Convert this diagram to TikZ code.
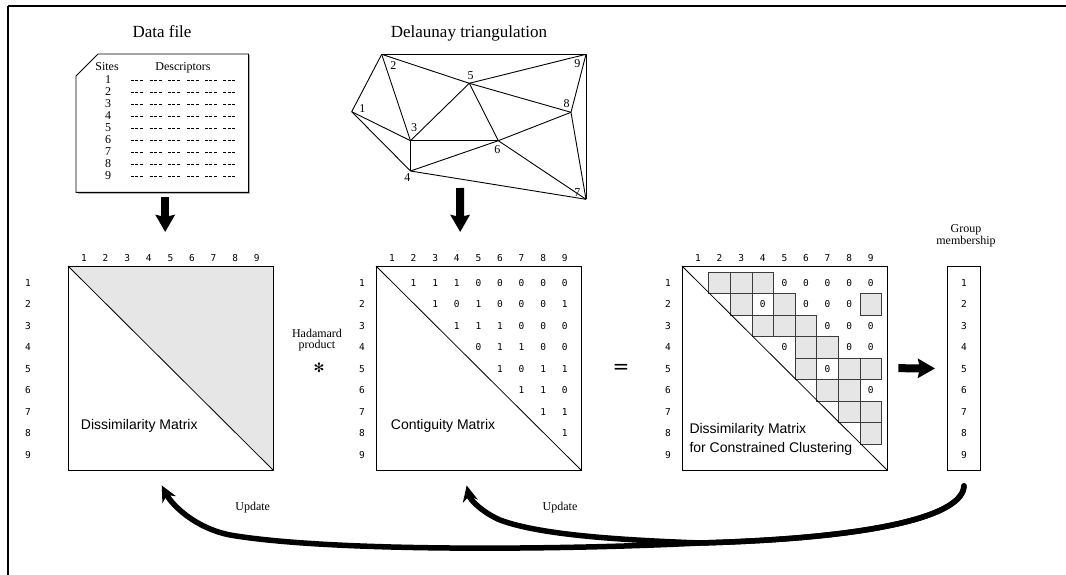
\documentclass[tikz,border=0pt]{standalone}
\usepackage{fontspec}
\setmainfont{Liberation Serif}
\setsansfont{Liberation Sans}
\setmonofont{DejaVu Sans Mono}
\newfontfamily\symbolfont{DejaVu Sans}
\usetikzlibrary{arrows.meta}
\definecolor{cellgray}{RGB}{230,230,230}
\definecolor{cellline}{RGB}{60,60,60}
\tikzset{
  heading/.style={font=\fontsize{17}{20}\selectfont, inner sep=0, anchor=base},
  serifsm/.style={font=\fontsize{12}{14}\selectfont, inner sep=0},
  idx/.style={font=\ttfamily\fontsize{9.5}{10}\selectfont, inner sep=0},
  mlabel/.style={font=\sffamily\fontsize{14}{16}\selectfont, inner sep=0, anchor=base west},
  matbox/.style={minimum width=205pt, minimum height=204pt, inner sep=0, anchor=north west},
  cellbox/.style={draw=cellline, fill=cellgray, line width=0.7pt, minimum width=21.6pt, minimum height=21.5pt, inner sep=0},
  tri/.style={line width=0.9pt, line join=round},
  fatarrow/.style={line width=8pt, -{Stealth[length=17pt,width=19pt,inset=2pt]}},
  feedback/.style={line width=5.5pt, line cap=round, -{Stealth[length=16pt,width=15pt,inset=5pt]}},
}
\begin{document}
\begin{tikzpicture}[x=1pt,y=-1pt]
\useasboundingbox (0,0) rectangle (1066,575);
% outer frame (top and left rules)
\draw[line width=2.2pt] (8,6) -- (1066,6);
\draw[line width=2.2pt] (8,6) -- (8,575);

% ---------- data file ----------
\node[heading] (dftitle) at (162,38) {Data file};
\node[minimum width=172pt, minimum height=138pt, inner sep=0, anchor=north west] (datafile) at (76,54) {};
\draw[gray!60, line width=1pt] ([shift={(1.5pt,-1.5pt)}]datafile.north east) -- ([shift={(1.5pt,-1.5pt)}]datafile.south east) -- ([shift={(1.5pt,-1.5pt)}]datafile.south west);
\draw[line width=0.8pt, line join=miter] ([yshift=-22pt]datafile.north west) -- ([xshift=22pt]datafile.north west) -- (datafile.north east) -- (datafile.south east) -- (datafile.south west) -- cycle;
\node[serifsm, anchor=base] (sites) at (107,70.5) {Sites};
\node[serifsm, anchor=base] (descr) at (183,70.5) {Descriptors};
\foreach \r in {1,...,9}{
  \node[serifsm] (site\r) at (108,{79.7+(\r-1)*12}) {\r};
  \foreach \x in {136.7,155.7,174,192.7,211,229.3}
    \draw[line width=0.5pt, dash pattern=on 3pt off 1.4pt] ({\x-6},{80.7+(\r-1)*12}) -- ({\x+6},{80.7+(\r-1)*12});
}

% ---------- Delaunay triangulation ----------
\node[heading] (dttitle) at (469,38) {Delaunay triangulation};
\coordinate (p1) at (351.7,111.7);
\coordinate (p2) at (381.7,54.3);
\coordinate (p3) at (410.5,140.7);
\coordinate (p4) at (410.5,171);
\coordinate (p5) at (469.3,83.3);
\coordinate (p6) at (498.3,140.7);
\coordinate (p7) at (586,199.3);
\coordinate (p8) at (571,112.3);
\coordinate (p9) at (586,54.3);
\foreach \a/\b in {2/9,9/7,2/1,1/3,1/4,2/3,2/5,5/9,5/3,5/6,5/8,9/8,8/7,8/6,3/6,3/4,4/6,4/7,6/7}
  \draw[tri] (p\a) -- (p\b);
\node[serifsm] (l1) at (362.3,108.3) {1};
\node[serifsm] (l2) at (393.3,65.7) {2};
\node[serifsm] (l3) at (414,127.3) {3};
\node[serifsm] (l4) at (407.3,177.3) {4};
\node[serifsm] (l5) at (470.7,76) {5};
\node[serifsm] (l6) at (497.3,150) {6};
\node[serifsm] (l7) at (577.3,192.7) {7};
\node[serifsm] (l8) at (566.7,103.3) {8};
\node[serifsm] (l9) at (577.3,63.3) {9};
\coordinate (dtbase) at (460,188);

% ---------- dissimilarity matrix ----------
\node[matbox] (dm) at (68,266) {};
\fill[cellgray] (dm.north west) -- (dm.north east) -- (dm.south east) -- cycle;
\draw[line width=0.9pt] (dm.north west) rectangle (dm.south east);
\draw[line width=0.8pt] (dm.north west) -- (dm.south east);
\foreach \i in {1,...,9}{
  \node[idx] (dmc\i) at ({84+(\i-1)*21.6},258) {\i};
  \node[idx] (dmr\i) at (28,{282.6+(\i-1)*21.55}) {\i};
}
\node[mlabel] (dmlabel) at (80.7,429) {Dissimilarity Matrix};

% Hadamard product sign
\node[serifsm, anchor=base] (had1) at (317,337.3) {Hadamard};
\node[serifsm, anchor=base] (had2) at (317,348.3) {product};
\node[font=\symbolfont\fontsize{13}{14}\selectfont, inner sep=0] (star) at (319,368) {✻};

% ---------- contiguity matrix ----------
\node[matbox] (cm) at (376,266) {};
\draw[line width=0.9pt] (cm.north west) rectangle (cm.south east);
\draw[line width=0.8pt] (cm.north west) -- (cm.south east);
\foreach \i in {1,...,9}{
  \node[idx] (cmc\i) at ({392+(\i-1)*21.6},258) {\i};
  \node[idx] (cmr\i) at (362,{282.6+(\i-1)*21.55}) {\i};
}
\foreach \r/\c/\v in {1/2/1,1/3/1,1/4/1,1/5/0,1/6/0,1/7/0,1/8/0,1/9/0,
  2/3/1,2/4/0,2/5/1,2/6/0,2/7/0,2/8/0,2/9/1,
  3/4/1,3/5/1,3/6/1,3/7/0,3/8/0,3/9/0,
  4/5/0,4/6/1,4/7/1,4/8/0,4/9/0,
  5/6/1,5/7/0,5/8/1,5/9/1,
  6/7/1,6/8/1,6/9/0,
  7/8/1,7/9/1,
  8/9/1}
  \node[idx] (cv\r\c) at ({392+(\c-1)*21.6},{282.6+(\r-1)*21.55}) {\v};
\node[mlabel] (cmlabel) at (390.7,429) {Contiguity Matrix};

\node[font=\symbolfont\fontsize{20}{22}\selectfont, inner sep=0] (equals) at (621,369) {=};

% ---------- constrained dissimilarity matrix ----------
\node[matbox] (rm) at (682,266) {};
\foreach \r/\c in {1/2,1/3,1/4,2/3,2/5,2/9,3/4,3/5,3/6,4/6,4/7,5/6,5/8,5/9,6/7,6/8,7/8,7/9,8/9}
  \node[cellbox] (rc\r\c) at ({698+(\c-1)*21.6},{282.6+(\r-1)*21.55}) {};
\foreach \r/\c in {1/5,1/6,1/7,1/8,1/9,2/4,2/6,2/7,2/8,3/7,3/8,3/9,4/5,4/8,4/9,5/7,6/9}
  \node[idx] (rz\r\c) at ({698+(\c-1)*21.6},{282.6+(\r-1)*21.55}) {0};
\draw[line width=0.9pt] (rm.north west) rectangle (rm.south east);
\draw[line width=0.8pt] (rm.north west) -- (rm.south east);
\foreach \i in {1,...,9}{
  \node[idx] (rmc\i) at ({698+(\i-1)*21.6},258) {\i};
  \node[idx] (rmr\i) at (668,{282.6+(\i-1)*21.55}) {\i};
}
\node[mlabel] (rmlabel1) at (689.3,433) {Dissimilarity Matrix};
\node[mlabel] (rmlabel2) at (689.3,452.7) {for Constrained Clustering};

% ---------- group membership ----------
\node[serifsm, anchor=base] (gmt1) at (966,232.7) {Group};
\node[serifsm, anchor=base] (gmt2) at (966,244.3) {membership};
\node[draw, line width=0.9pt, minimum width=33pt, minimum height=204pt, inner sep=0, anchor=north west] (gm) at (947,266) {};
\foreach \i in {1,...,9}
  \node[idx] (gmr\i) at (964,{282.6+(\i-1)*21.55}) {\i};

% ---------- flow arrows ----------
\draw[fatarrow] ([shift={(3pt,-5pt)}]datafile.south) -- ([shift={(-5.5pt,34pt)}]dm.north);
\draw[fatarrow] (dtbase) -- ([shift={(-18.5pt,34pt)}]cm.north);
\draw[fatarrow] ([xshift=11pt]rm.east) -- ([xshift=-12pt]gm.west);

% ---------- update loops ----------
\coordinate (loopstart) at ([yshift=-15pt]gm.south);
\coordinate (loopmid) at (700,543);
\coordinate (tipA) at ([shift={(-9pt,-15pt)}]dm.south);
\coordinate (tipB) at ([shift={(-12pt,-15pt)}]cm.south);
\draw[feedback] (loopstart) .. controls (963,515) and (880,538) .. (loopmid)
  .. controls (560,550) and (330,552) .. (230,535)
  .. controls (195,528) and (172,505) .. (tipA);
\draw[feedback] (loopstart) .. controls (963,515) and (880,538) .. (loopmid)
  .. controls (620,540) and (540,535) .. (500,520)
  .. controls (482,512) and (470,500) .. (tipB);
\node[serifsm, anchor=base] (upd1) at (252.7,510) {Update};
\node[serifsm, anchor=base] (upd2) at (560,510) {Update};
\end{tikzpicture}
\end{document}
